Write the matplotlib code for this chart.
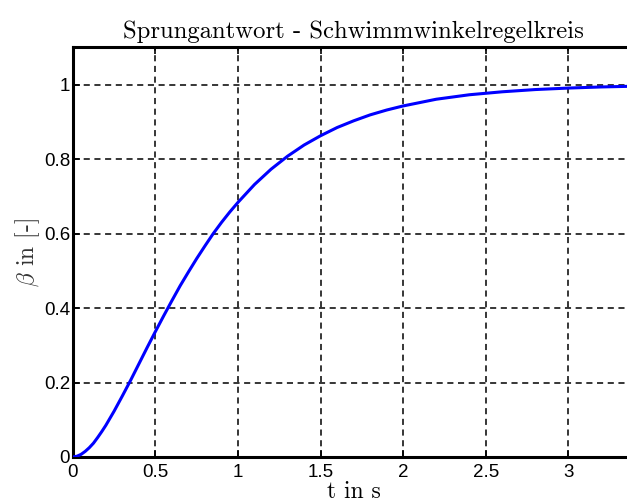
import matplotlib
matplotlib.use("Agg")
import matplotlib.pyplot as plt

# Step response of the sideslip-angle control loop
t = [0.000, 0.025, 0.050, 0.075, 0.100, 0.125, 0.150, 0.175, 0.200, 0.225,
     0.25, 0.30, 0.35, 0.40, 0.45,
     0.50, 0.55, 0.60, 0.65, 0.70, 0.75, 0.80, 0.85, 0.90, 0.95,
     1.00, 1.10, 1.20, 1.30, 1.40, 1.50, 1.60, 1.70, 1.80, 1.90,
     2.00, 2.20, 2.40, 2.60, 2.80, 3.00, 3.20, 3.40, 3.60]
beta = [0.000, 0.002, 0.007, 0.015, 0.025, 0.037, 0.052, 0.068, 0.085, 0.104,
        0.123, 0.164, 0.206, 0.250, 0.294,
        0.337, 0.379, 0.420, 0.460, 0.497, 0.533, 0.567, 0.600, 0.630, 0.658,
        0.684, 0.732, 0.773, 0.808, 0.838, 0.863, 0.885, 0.903, 0.919, 0.932,
        0.943, 0.961, 0.973, 0.981, 0.987, 0.991, 0.994, 0.996, 0.997]

x_ticks = [0, 0.5, 1, 1.5, 2, 2.5, 3]
y_ticks = [0, 0.2, 0.4, 0.6, 0.8, 1]
x_max = 3.4
y_max = 1.1

plt.rcParams["mathtext.fontset"] = "cm"
plt.rcParams["axes.unicode_minus"] = False
serif = ["cmr10", "DejaVu Serif"]

fig = plt.figure(figsize=(6.27, 5.03), dpi=100)
ax = fig.add_axes([0.1161, 0.0915, 0.8959, 0.8141])

ax.plot(t, beta, color="#0000ff", lw=2.2, zorder=3)

ax.set_xlim(0, x_max)
ax.set_ylim(0, y_max)
ax.set_xticks(x_ticks)
ax.set_yticks(y_ticks)
ax.set_xticklabels([f"{v:g}" for v in x_ticks])
ax.set_yticklabels([f"{v:g}" for v in y_ticks])

ax.grid(True, color="black", linestyle=(0, (4, 3)), linewidth=1.1)
for s in ax.spines.values():
    s.set_linewidth(2.2)

ax.tick_params(direction="in", length=5, width=1.2, top=True, right=True,
               labelsize=13.5)
ax.tick_params(axis="x", pad=5)
ax.tick_params(axis="y", pad=2)
for lab in ax.get_xticklabels() + ax.get_yticklabels():
    lab.set_fontfamily("Liberation Sans")

ax.set_title("Sprungantwort - Schwimmwinkelregelkreis",
             fontsize=17.8, family=serif, pad=7)
ax.set_xlabel("t in s", fontsize=17, family=serif, labelpad=0)
ax.set_ylabel(r"$\beta$ in [-]", fontsize=17, family=serif, labelpad=1,
              color="#333333")

fig.savefig("out.png", dpi=100)
